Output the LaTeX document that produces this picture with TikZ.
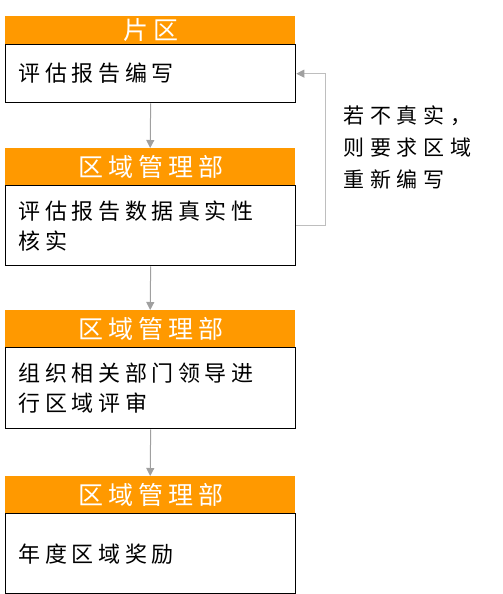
\documentclass[tikz,border=0pt]{standalone}
\usepackage{fontspec}
\newfontfamily\cjk[LetterSpace=21]{Noto Sans CJK SC}
\newfontfamily\cjkh[LetterSpace=20]{Noto Sans CJK SC}
\newfontfamily\cjks[LetterSpace=28]{Noto Sans CJK SC}
\usetikzlibrary{arrows.meta}
\definecolor{hdr}{RGB}{255,153,0}
\definecolor{arr}{RGB}{160,160,160}
\definecolor{fbline}{RGB}{190,190,190}
\begin{document}
\begin{tikzpicture}[x=1pt,y=-1pt,
  hdrbox/.style={fill=hdr, minimum width=290pt, inner sep=0pt, anchor=north west,
    text=white, font=\cjkh\fontsize{25}{27}\selectfont},
  bodybox/.style={draw=black, line width=1.3pt, minimum width=290pt, text width=264pt,
    inner xsep=13pt, inner ysep=0pt, align=left, anchor=north west,
    font=\cjk\fontsize{22}{30}\selectfont},
  flow/.style={draw=arr, line width=1pt, -{Triangle[length=8pt,width=8pt]}},
  fb/.style={draw=fbline, line width=1pt, -{Triangle[length=8pt,width=8pt,fill=arr,color=arr]}},
  sidetext/.style={anchor=north west, inner sep=0pt, align=left,
    font=\cjks\fontsize{21}{32}\selectfont}]
\useasboundingbox (0,0) rectangle (503,594);

\node[hdrbox, minimum height=28pt] (h1) at (5,16) {\hspace{2.5pt}片区};
\node[bodybox, minimum height=58pt] (b1) at (5,44) {评估报告编写};

\node[hdrbox, minimum height=37pt] (h2) at (5,148) {\hspace{2.5pt}区域管理部};
\node[bodybox, minimum height=80pt] (b2) at (5,185) {评估报告数据真实性\\核实};

\node[hdrbox, minimum height=37pt] (h3) at (5,310) {\hspace{2.5pt}区域管理部};
\node[bodybox, minimum height=81pt] (b3) at (5,347) {组织相关部门领导进\\行区域评审};

\node[hdrbox, minimum height=37pt] (h4) at (5,476) {\hspace{2.5pt}区域管理部};
\node[bodybox, minimum height=80pt] (b4) at (5,513) {年度区域奖励};

\draw[flow] (b1.south) -- (h2.north);
\draw[flow] (b2.south) -- (h3.north);
\draw[flow] (b3.south) -- (h4.north);

\coordinate (fbx) at (325,0);
\draw[fb] (b2.east) -- (fbx |- b2.east) |- (b1.east);

\node[sidetext] (note) at (343,106) {若不真实，\\则要求区域\\重新编写};
\end{tikzpicture}
\end{document}
